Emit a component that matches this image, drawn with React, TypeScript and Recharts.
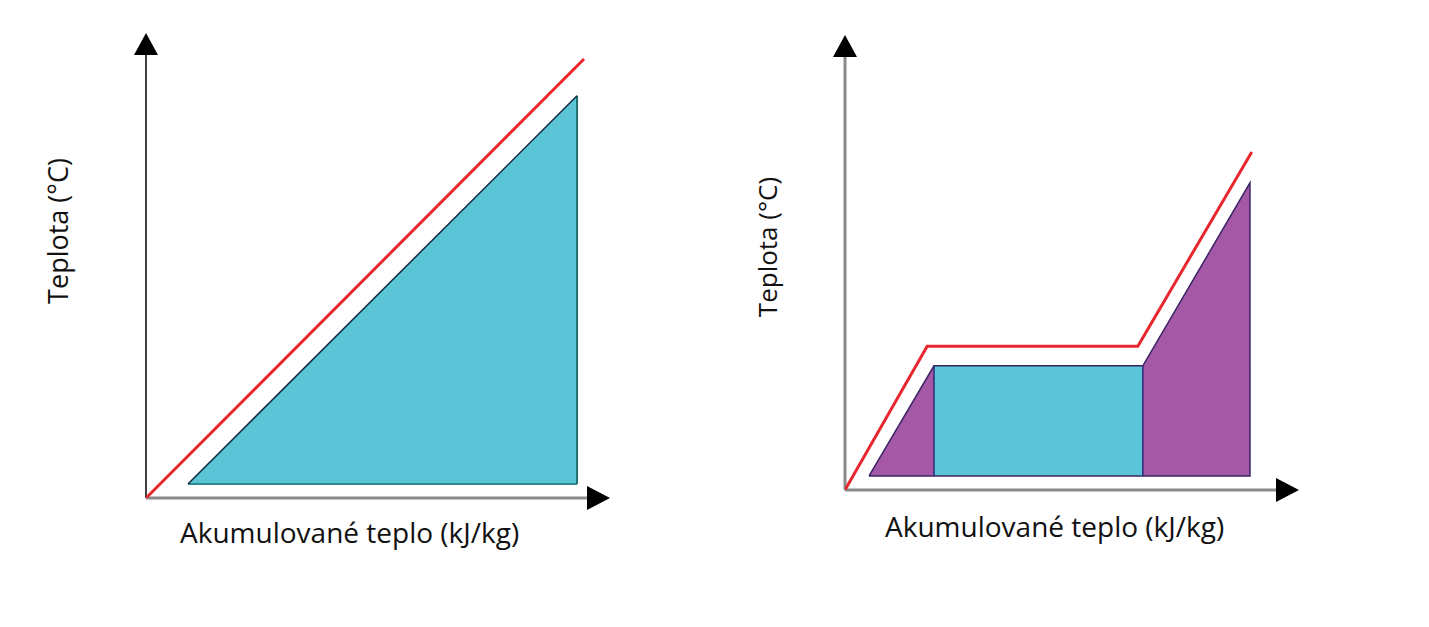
import React from "react";
import { ComposedChart, Line, Area, XAxis, YAxis, ReferenceDot, ReferenceLine } from "recharts";

// ---------- Left chart (sensible heat) ----------
const leftRed = [
  { x: 0, y: 0 },
  { x: 94.4, y: 94.4 },
];
const leftFill = [
  { x: 9.05, y: 3.0 },
  { x: 92.9, y: 86.5 },
];
const leftFillBase = 3.0;
const leftEdgeHyp = [
  { x: 9.05, y: 3.0 },
  { x: 92.9, y: 86.5 },
];
const leftEdgeRight = [
  { x: 92.9, y: 86.5 },
  { x: 92.9, y: 3.0 },
];
const leftEdgeBottom = [
  { x: 9.05, y: 3.0 },
  { x: 92.9, y: 3.0 },
];

// ---------- Right chart (latent heat) ----------
const rightRed = [
  { x: 0, y: 0 },
  { x: 18.1, y: 31.6 },
  { x: 64.5, y: 31.6 },
  { x: 89.6, y: 74.3 },
];
const rightBase = 3.1;
const rightPurpleLeft = [
  { x: 5.3, y: 3.1 },
  { x: 19.6, y: 27.3 },
];
const rightCyan = [
  { x: 19.6, y: 27.3 },
  { x: 65.6, y: 27.3 },
];
const rightPurpleRight = [
  { x: 65.6, y: 27.3 },
  { x: 89.2, y: 67.5 },
];
const rightEdgeOutline = [
  { x: 5.3, y: 3.1 },
  { x: 19.6, y: 27.3 },
  { x: 65.6, y: 27.3 },
  { x: 89.2, y: 67.5 },
  { x: 89.2, y: 3.1 },
  { x: 5.3, y: 3.1 },
];
const rightEdgeV1 = [
  { x: 19.6, y: 27.3 },
  { x: 19.6, y: 3.1 },
];
const rightEdgeV2 = [
  { x: 65.6, y: 27.3 },
  { x: 65.6, y: 3.1 },
];

const axisDomain = [0, 100];
const axisEnd = 96;
const xTitle = "Akumulované teplo (kJ/kg)";
const yTitle = "Teplota (°C)";

const RED = "#e8262d";
const CYAN = "#5bc5d7";
const PURPLE = "#a458a6";

const UpArrow = (props: any) => {
  const { cx, cy } = props;
  return <polygon points={`${cx},${cy} ${cx - 12},${cy + 22} ${cx + 12},${cy + 22}`} fill="#000" />;
};
const RightArrow = (props: any) => {
  const { cx, cy } = props;
  return <polygon points={`${cx},${cy} ${cx - 23},${cy - 12} ${cx - 23},${cy + 12}`} fill="#000" />;
};

const titleStyle: React.CSSProperties = {
  position: "absolute",
  fontFamily: "'Open Sans', sans-serif",
  fontSize: 28,
  lineHeight: 1,
  whiteSpace: "nowrap",
  color: "#111",
};

function PlainLine({ data, stroke, width = 1.5 }: any) {
  return (
    <Line
      data={data}
      dataKey="y"
      type="linear"
      stroke={stroke}
      strokeWidth={width}
      dot={false}
      activeDot={false}
      isAnimationActive={false}
    />
  );
}

export default function App() {
  return (
    <div style={{ position: "absolute", left: 0, top: 0, width: 1429, height: 627, background: "#fff", overflow: "hidden" }}>
      <div style={{ position: "absolute", left: 0, top: 0 }}>
        <ComposedChart width={700} height={627} margin={{ top: 33, left: 146, right: 90, bottom: 129 }}>
          <XAxis dataKey="x" type="number" domain={axisDomain} hide allowDataOverflow />
          <YAxis type="number" domain={axisDomain} hide allowDataOverflow />
          <ReferenceLine segment={[{ x: 0, y: 0 }, { x: axisEnd, y: 0 }]} stroke="#8a8a8a" strokeWidth={3} ifOverflow="visible" />
          <ReferenceLine segment={[{ x: 0, y: 0 }, { x: 0, y: axisEnd }]} stroke="#000" strokeWidth={1.5} ifOverflow="visible" />
          <Area data={leftFill} dataKey="y" type="linear" baseValue={leftFillBase} fill={CYAN} fillOpacity={1} stroke="none" isAnimationActive={false} activeDot={false} dot={false} />
          {PlainLine({ data: leftEdgeBottom, stroke: "#2a8a8e", width: 2 })}
          {PlainLine({ data: leftEdgeRight, stroke: "#226f73", width: 2 })}
          {PlainLine({ data: leftEdgeHyp, stroke: "#12283f", width: 1.5 })}
          {PlainLine({ data: leftRed, stroke: RED, width: 3 })}
          <ReferenceDot x={0} y={100} r={0} shape={UpArrow} ifOverflow="visible" />
          <ReferenceDot x={100} y={0} r={0} shape={RightArrow} ifOverflow="visible" />
        </ComposedChart>
      </div>
      <div style={{ position: "absolute", left: 700, top: 0 }}>
        <ComposedChart width={729} height={627} margin={{ top: 35, left: 145, right: 130, bottom: 137 }}>
          <XAxis dataKey="x" type="number" domain={axisDomain} hide allowDataOverflow />
          <YAxis type="number" domain={axisDomain} hide allowDataOverflow />
          <ReferenceLine segment={[{ x: 0, y: 0 }, { x: axisEnd, y: 0 }]} stroke="#8a8a8a" strokeWidth={3} ifOverflow="visible" />
          <ReferenceLine segment={[{ x: 0, y: 0 }, { x: 0, y: axisEnd }]} stroke="#8a8a8a" strokeWidth={3} ifOverflow="visible" />
          <Area data={rightPurpleLeft} dataKey="y" type="linear" baseValue={rightBase} fill={PURPLE} fillOpacity={1} stroke="none" isAnimationActive={false} activeDot={false} dot={false} />
          <Area data={rightCyan} dataKey="y" type="linear" baseValue={rightBase} fill={CYAN} fillOpacity={1} stroke="none" isAnimationActive={false} activeDot={false} dot={false} />
          <Area data={rightPurpleRight} dataKey="y" type="linear" baseValue={rightBase} fill={PURPLE} fillOpacity={1} stroke="none" isAnimationActive={false} activeDot={false} dot={false} />
          {PlainLine({ data: rightEdgeOutline, stroke: "#3b2466", width: 1.5 })}
          {PlainLine({ data: rightEdgeV1, stroke: "#2d2a78", width: 1.5 })}
          {PlainLine({ data: rightEdgeV2, stroke: "#2d2a78", width: 1.5 })}
          {PlainLine({ data: rightRed, stroke: RED, width: 3 })}
          <ReferenceDot x={0} y={100} r={0} shape={UpArrow} ifOverflow="visible" />
          <ReferenceDot x={100} y={0} r={0} shape={RightArrow} ifOverflow="visible" />
        </ComposedChart>
      </div>
      <div style={{ ...titleStyle, left: 180, top: 518 }}>{xTitle}</div>
      <div style={{ ...titleStyle, left: 885, top: 512 }}>{xTitle}</div>
      <div style={{ ...titleStyle, fontSize: 27, left: 57, top: 231, transform: "translate(-50%,-50%) rotate(-90deg)" }}>{yTitle}</div>
      <div style={{ ...titleStyle, fontSize: 26, left: 767, top: 247, transform: "translate(-50%,-50%) rotate(-90deg)" }}>{yTitle}</div>
    </div>
  );
}
